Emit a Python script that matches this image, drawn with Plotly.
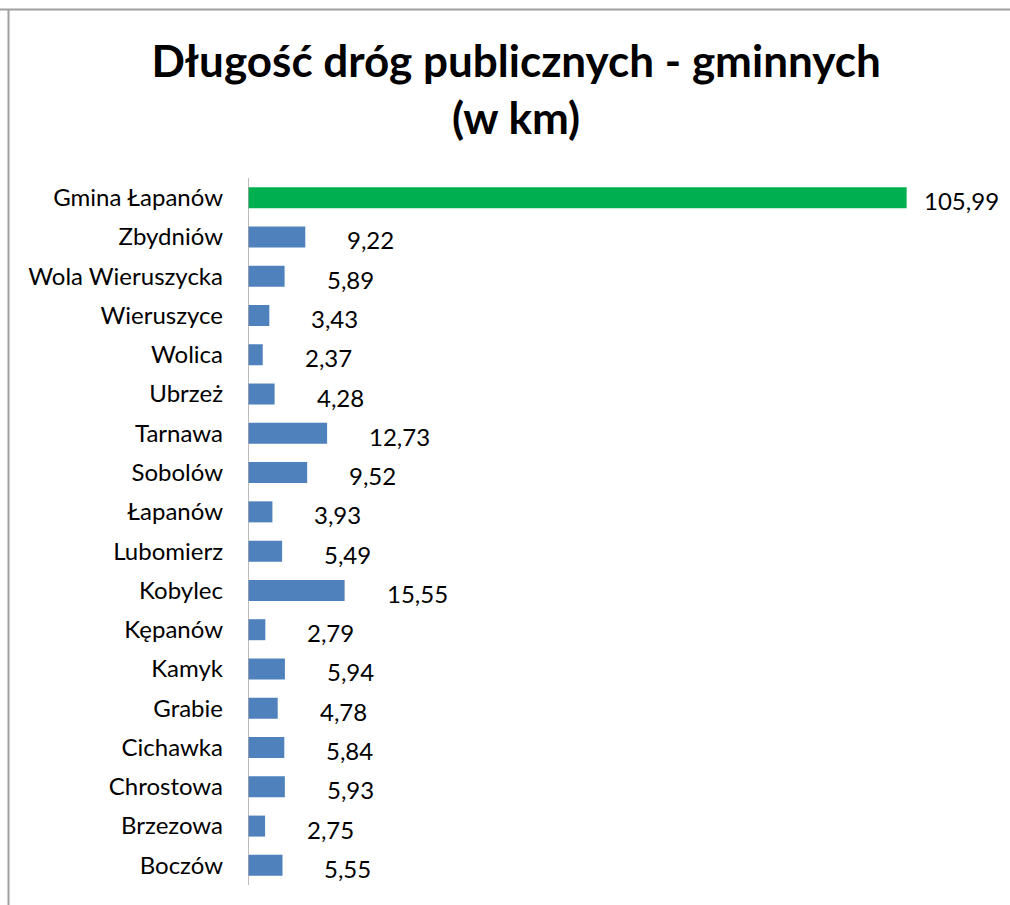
import plotly.graph_objects as go

categories = ["Gmina Łapanów", "Zbydniów", "Wola Wieruszycka", "Wieruszyce", "Wolica",
              "Ubrzeż", "Tarnawa", "Sobolów", "Łapanów", "Lubomierz", "Kobylec",
              "Kępanów", "Kamyk", "Grabie", "Cichawka", "Chrostowa", "Brzezowa", "Boczów"]
values = [105.99, 9.22, 5.89, 3.43, 2.37, 4.28, 12.73, 9.52, 3.93, 5.49, 15.55,
          2.79, 5.94, 4.78, 5.84, 5.93, 2.75, 5.55]
label_texts = [f"{v:.2f}".replace(".", ",") for v in values]

GREEN = "#00B050"
BLUE = "#4F81BD"
colors = [GREEN if c == "Gmina Łapanów" else BLUE for c in categories]

FONT = "Lato"

fig = go.Figure()
fig.add_trace(go.Bar(
    y=categories, x=values, orientation="h",
    marker=dict(color=colors, line=dict(width=0)),
    hoverinfo="skip",
))

for c, v, t in zip(categories, values, label_texts):
    fig.add_annotation(x=v, y=c, text=t, showarrow=False, xanchor="left",
                       xshift=15 if v > 50 else 40, yshift=-3,
                       font=dict(family=FONT, size=24, color="#000000"))

fig.update_layout(
    width=1010, height=905,
    margin=dict(l=248, r=66, t=178, b=20, autoexpand=False),
    paper_bgcolor="white", plot_bgcolor="white",
    showlegend=False,
    bargap=0.465,
    title=dict(text="<b>Długość dróg publicznych - gminnych<br>(w km)</b>",
               x=0.511, xanchor="center", y=0.915, yanchor="middle",
               font=dict(family=FONT, size=44, color="#000000")),
    xaxis=dict(range=[0, 112], visible=False, fixedrange=True),
    yaxis=dict(autorange="reversed", showgrid=False, zeroline=False, automargin=False,
               showline=False, ticks="", ticklabelstandoff=24, fixedrange=True,
               tickfont=dict(family=FONT, size=24, color="#000000")),
    shapes=[
        dict(type="line", xref="x", yref="paper", x0=0, x1=0, y0=0, y1=1,
             line=dict(color="#A6A6A6", width=1.5)),
        dict(type="line", xref="paper", yref="paper", x0=-248/696, x1=(1010-248)/696 + 0.01,
             y0=1 + (178-9.5)/707, y1=1 + (178-9.5)/707,
             line=dict(color="#A0A0A0", width=2)),
        dict(type="line", xref="paper", yref="paper", x0=-(248-8.5)/696, x1=-(248-8.5)/696,
             y0=1 + (178-9.5)/707, y1=-0.05,
             line=dict(color="#A0A0A0", width=2)),
    ],
)

fig.write_html("out.html", config={"displayModeBar": False},
               post_script="document.body.style.margin='0';")
